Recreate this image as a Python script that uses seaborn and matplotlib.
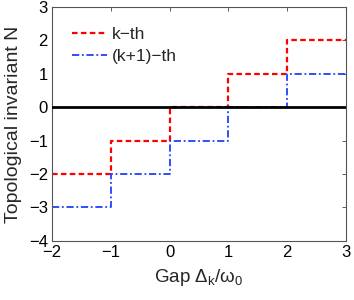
import numpy as np
import pandas as pd
import seaborn as sns
import matplotlib.pyplot as plt

# step values, held from each gap value to the next
gap = [-2, -1, 0, 1, 2, 3]
n_k = [-2, -1, 0, 1, 2, 2]
n_k1 = [-3, -2, -1, 0, 1, 1]
zero_x = [-2, 3]
zero_y = [0, 0]

sns.set_style('white')
plt.rcParams['font.family'] = ['Liberation Sans', 'DejaVu Sans']
plt.rcParams['mathtext.fontset'] = 'custom'
plt.rcParams['mathtext.rm'] = 'Liberation Sans'
plt.rcParams['mathtext.it'] = 'Liberation Sans'

fig = plt.figure(figsize=(3.54, 3.0), dpi=100)
ax = fig.add_axes([0.147, 0.197, 0.83, 0.78])

df = pd.DataFrame({'gap': gap, 'k': n_k, 'k1': n_k1})

sns.lineplot(data=df, x='gap', y='k', ax=ax, color='#ff0000', linewidth=1.6,
             drawstyle='steps-post', dashes=False, linestyle=(0, (2.5, 1.5)),
             label='k\u2212th', zorder=2)
sns.lineplot(data=df, x='gap', y='k1', ax=ax, color='#2040ff', linewidth=1.3,
             drawstyle='steps-post', dashes=False, linestyle=(0, (4, 1.5, 1, 1.5)),
             label='(k+1)\u2212th', zorder=2)
sns.lineplot(x=zero_x, y=zero_y, ax=ax, color='black', linewidth=2, zorder=3)

ax.set_xlim(-2, 3)
ax.set_ylim(-4, 3)
ax.set_xticks([-2, -1, 0, 1, 2, 3])
ax.set_yticks([-4, -3, -2, -1, 0, 1, 2, 3])
ax.set_xticklabels(['\u22122', '\u22121', '0', '1', '2', '3'])
ax.set_yticklabels(['\u22124', '\u22123', '\u22122', '\u22121', '0', '1', '2', '3'])
ax.tick_params(direction='in', length=3, width=0.6, top=True, right=True,
               labelsize=12, pad=3, colors='#444444', labelcolor='black')
for s in ax.spines.values():
    s.set_color('#555555')
    s.set_linewidth(0.8)

ax.set_xlabel('Gap $\\Delta_k/\\omega_0$', fontsize=13.5, labelpad=5)
ax.set_ylabel('Topological invariant N', fontsize=14, labelpad=5)

ax.legend(loc='upper left', frameon=False, fontsize=12.5, handlelength=2.0,
          handletextpad=0.3, borderaxespad=0.4, labelspacing=0.4,
          bbox_to_anchor=(0.02, 0.975))

fig.savefig('out.png', dpi=100)
